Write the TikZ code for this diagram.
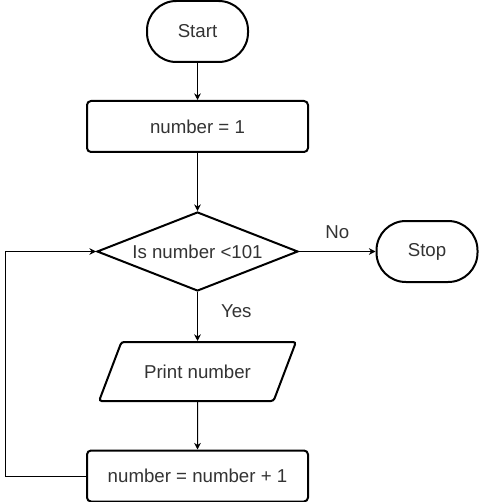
\documentclass[tikz,border=0pt]{standalone}
\usepackage{fontspec}
\setmainfont{Liberation Sans}
\usetikzlibrary{shapes.geometric,arrows.meta,positioning}

\tikzset{
  term/.style={draw, line width=1.5pt, rounded corners=22pt, minimum width=75.75pt, minimum height=45.75pt},
  proc/.style={draw, line width=1.5pt, rounded corners=3pt, minimum width=165.75pt, minimum height=38.25pt},
  dec/.style={draw, line width=1.5pt, diamond, aspect=2.54, inner sep=0pt, minimum width=150.75pt, minimum height=59.25pt},
  io/.style={draw, line width=1.5pt, trapezium, trapezium left angle=53, trapezium right angle=127, trapezium stretches=true, rounded corners=2pt, minimum width=147.75pt, minimum height=44.25pt},
  line/.style={line width=0.75pt, -{Stealth[length=5pt,width=5pt]}},
  lbl/.style={text=black!80}
}

\begin{document}
\begin{tikzpicture}[x=0.75pt, y=-0.75pt, every node/.style={font=\fontsize{14}{16}\selectfont, text=black!80}]

	\useasboundingbox (0,0) rectangle (479,502);

	\node[term] (start) at (197.5,31.5) {Start};
	\node[proc] (n1) at (197.5,126.5) {number = 1};
	\node[dec] (cond) at (197.5,251.5) {Is number <101};
	\node[term] (stop) at (427,251.5) {Stop};
	\node[io] (print) at (197.5,371.5) {Print number};
	\node[proc] (n2) at (197.5,476) {number = number + 1};

	\foreach \a/\b in {start/n1, n1/cond, print/n2} {
		\draw[line] (\a) -- (\b);
	}
	\draw[line] (cond) -- node[lbl, above=6pt] {No} (stop);
	\draw[line] (cond) -- node[lbl, pos=0.4, right=14pt] {Yes} (print);
	\draw[line] (n2.west) -- ++(-81,0) |- (cond.west);

\end{tikzpicture}
\end{document}
